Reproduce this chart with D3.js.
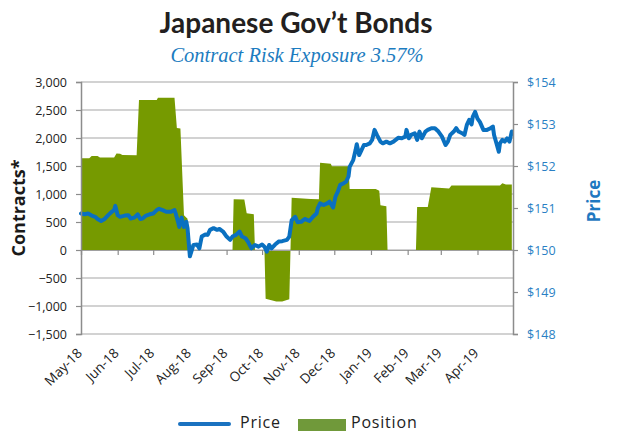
<!DOCTYPE html>
<html><head><meta charset="utf-8">
<script src="https://cdn.jsdelivr.net/npm/d3@7"></script>
<style>body{margin:0;background:#fff}svg{display:block}</style>
</head><body>
<svg id="chart" width="618" height="432"></svg>
<script>
const titleText = "Japanese Gov\u2019t Bonds";
const subtitleText = "Contract Risk Exposure 3.57%";
const monthTicks = ["2018-05-01","2018-06-01","2018-07-01","2018-08-01","2018-09-01","2018-10-01","2018-11-01","2018-12-01","2019-01-01","2019-02-01","2019-03-01","2019-04-01"];
const monthLabels = ["May-18","Jun-18","Jul-18","Aug-18","Sep-18","Oct-18","Nov-18","Dec-18","Jan-19","Feb-19","Mar-19","Apr-19"];
const leftTicks = [-1500,-1000,-500,0,500,1000,1500,2000,2500,3000];
const rightTicks = [148,149,150,151,152,153,154];

const priceDates = ["2018-05-01","2018-05-04","2018-05-07","2018-05-10","2018-05-13","2018-05-15","2018-05-18","2018-05-21","2018-05-24","2018-05-27","2018-05-29","2018-05-30",
"2018-06-01","2018-06-03","2018-06-07","2018-06-10","2018-06-12","2018-06-15","2018-06-18","2018-06-20","2018-06-22","2018-06-25","2018-06-28",
"2018-07-01","2018-07-04","2018-07-06","2018-07-09","2018-07-12","2018-07-16","2018-07-19","2018-07-20","2018-07-22","2018-07-23","2018-07-25","2018-07-27","2018-07-29","2018-07-30",
"2018-08-01","2018-08-04","2018-08-07","2018-08-09","2018-08-11","2018-08-14","2018-08-16","2018-08-18","2018-08-21","2018-08-24","2018-08-26","2018-08-29",
"2018-09-01","2018-09-04","2018-09-06","2018-09-09","2018-09-12","2018-09-14","2018-09-17","2018-09-19","2018-09-22","2018-09-25","2018-09-28",
"2018-10-01","2018-10-03","2018-10-05","2018-10-07","2018-10-09","2018-10-12","2018-10-15","2018-10-18","2018-10-22","2018-10-24","2018-10-26","2018-10-29","2018-10-31",
"2018-11-03","2018-11-06","2018-11-10","2018-11-13","2018-11-16","2018-11-17","2018-11-19","2018-11-22","2018-11-25","2018-11-27","2018-11-30",
"2018-12-02","2018-12-04","2018-12-06","2018-12-09","2018-12-11","2018-12-13","2018-12-14","2018-12-17","2018-12-19","2018-12-20","2018-12-22","2018-12-24","2018-12-26","2018-12-28","2018-12-31",
"2019-01-02","2019-01-04","2019-01-06","2019-01-09","2019-01-11","2019-01-14","2019-01-17","2019-01-20","2019-01-24","2019-01-27","2019-01-30","2019-01-31",
"2019-02-02","2019-02-04","2019-02-07","2019-02-09","2019-02-11","2019-02-13","2019-02-16","2019-02-18","2019-02-21","2019-02-24","2019-02-27",
"2019-03-02","2019-03-05","2019-03-07","2019-03-09","2019-03-12","2019-03-14","2019-03-16","2019-03-19","2019-03-21","2019-03-23","2019-03-25","2019-03-27","2019-03-28","2019-03-30",
"2019-04-01","2019-04-03","2019-04-06","2019-04-09","2019-04-12","2019-04-14","2019-04-15","2019-04-17","2019-04-19","2019-04-20","2019-04-22","2019-04-24","2019-04-26","2019-04-28","2019-04-29","2019-04-30"];
const priceValues = [150.87,150.85,150.87,150.82,150.79,150.74,150.69,150.74,150.83,150.91,150.95,151.05,
150.83,150.79,150.82,150.83,150.75,150.77,150.85,150.74,150.75,150.82,150.85,
150.87,150.95,150.98,150.95,150.91,150.91,150.95,150.87,150.67,150.55,150.77,150.55,150.67,150.52,
149.85,150.12,150.13,150.04,150.32,150.37,150.36,150.48,150.52,150.48,150.50,150.44,
150.32,150.24,150.32,150.36,150.44,150.32,150.28,150.20,150.04,150.12,150.08,
150.13,150.08,149.96,150.12,150.04,150.13,150.20,150.21,150.24,150.32,150.71,150.79,150.66,
150.67,150.74,150.69,150.79,150.87,150.99,151.11,151.07,151.11,151.15,151.01,
151.27,151.39,151.55,151.59,151.63,151.75,151.98,152.14,152.38,152.52,152.26,152.38,152.50,152.50,152.54,
152.62,152.86,152.74,152.58,152.54,152.58,152.54,152.58,152.67,152.66,152.70,152.86,
152.66,152.74,152.78,152.62,152.82,152.66,152.82,152.86,152.90,152.90,152.82,
152.70,152.50,152.58,152.74,152.82,152.90,152.82,152.78,152.74,152.98,153.10,152.99,153.17,153.29,
153.13,153.05,152.86,152.86,152.90,152.94,152.74,152.54,152.34,152.54,152.62,152.58,152.66,152.58,152.70,152.82];

const positionDates = ["2018-05-01","2018-05-08","2018-05-10","2018-05-15","2018-05-17","2018-05-29","2018-05-31","2018-06-03","2018-06-05","2018-06-17","2018-06-19","2018-07-04","2018-07-05","2018-07-19","2018-07-21","2018-07-24","2018-07-27","2018-07-30","2018-07-31",
"2018-09-06","2018-09-07","2018-09-16","2018-09-18","2018-09-24","2018-09-25",
"2018-10-03","2018-10-04","2018-10-13","2018-10-18","2018-10-24","2018-10-25",
"2018-10-26","2018-11-11","2018-11-18","2018-11-19","2018-11-28","2018-11-29","2018-12-13","2018-12-14","2019-01-05","2019-01-08","2019-01-09","2019-01-14","2019-01-15",
"2019-02-08","2019-02-09","2019-02-18","2019-02-21","2019-03-08","2019-03-10","2019-04-20","2019-04-22","2019-04-25","2019-04-30"];
const positionValues = [1640,1640,1680,1680,1650,1650,1725,1720,1695,1690,2680,2680,2720,2720,2180,2170,620,560,0,
0,905,900,655,640,0,
0,-870,-920,-920,-880,0,
935,910,905,1560,1540,1495,1495,1090,1090,1060,800,780,0,
0,770,770,1120,1100,1150,1150,1190,1170,1170];

const parse = d3.timeParse("%Y-%m-%d");
const price = priceDates.map((d,i)=>({date:parse(d), v:priceValues[i]}));
const position = positionDates.map((d,i)=>({date:parse(d), v:positionValues[i]}));

const svg = d3.select("#chart");
const L = 81, R = 513, T = 82, B = 334;
const x = d3.scaleTime().domain([parse("2018-05-01"), parse("2019-05-01")]).range([L, R]);
const yL = d3.scaleLinear().domain([-1500, 3000]).range([B, T]);
const yR = d3.scaleLinear().domain([148, 154]).range([B, T]);

// title
svg.append("text").attr("x", 296).attr("y", 33).attr("text-anchor","middle")
  .style("font-family","Lato, 'Open Sans', sans-serif").style("font-weight","bold").style("font-size","28px").style("fill","#231f20")
  .text(titleText);
svg.append("text").attr("x", 297).attr("y", 62).attr("text-anchor","middle")
  .style("font-family","'Liberation Serif', serif").style("font-style","italic").style("font-size","20.5px").style("fill","#1c7cc0")
  .text(subtitleText);

// gridlines
svg.append("g").selectAll("line").data(leftTicks).join("line")
  .attr("x1", L).attr("x2", R).attr("y1", d=>yL(d)).attr("y2", d=>yL(d))
  .attr("stroke", "#a6a6a6").attr("stroke-width", 1.2);

// position area
const area = d3.area().x(d=>x(d.date)).y0(yL(0)).y1(d=>yL(d.v));
svg.append("path").datum(position).attr("d", area).attr("fill", "#769a00");

// x axis at zero
const xAxis = d3.axisBottom(x).tickValues(monthTicks.map(parse)).tickSize(5).tickFormat("");
const gx = svg.append("g").attr("transform", `translate(0,${yL(0)})`).call(xAxis);
gx.select(".domain").attr("stroke", "#a0a0a0").attr("stroke-width", 1.2);
gx.selectAll(".tick line").attr("stroke", "#8c8c8c").attr("stroke-width", 1.2);

// price line
const line = d3.line().x(d=>x(d.date)).y(d=>yR(d.v)).curve(d3.curveLinear);
svg.append("path").datum(price).attr("d", line).attr("fill","none")
  .attr("stroke","#0a70c0").attr("stroke-width", 4).attr("stroke-linejoin","round").attr("stroke-linecap","round");

// left axis
const gl = svg.append("g").attr("transform", `translate(${L},0)`)
  .call(d3.axisLeft(yL).tickValues(leftTicks).tickSize(5).tickPadding(9).tickFormat(d3.format(",")));
gl.select(".domain").attr("stroke","#8c8c8c").attr("stroke-width",1.5);
gl.selectAll(".tick line").attr("stroke","#8c8c8c").attr("stroke-width",1.2);
gl.selectAll("text").style("font-family","'Open Sans', sans-serif").style("font-size","12.5px").style("fill","#222");

// right axis
const gr = svg.append("g").attr("transform", `translate(${R},0)`)
  .call(d3.axisRight(yR).tickValues(rightTicks).tickSize(5).tickPadding(9).tickFormat(d=>"$"+d));
gr.select(".domain").attr("stroke","#8c8c8c").attr("stroke-width",1.5);
gr.selectAll(".tick line").attr("stroke","#8c8c8c").attr("stroke-width",1.2);
gr.selectAll("text").style("font-family","'Open Sans', sans-serif").style("font-size","12.5px").style("fill","#2a7fc4");

// bottom month labels
svg.append("g").selectAll("text").data(monthTicks).join("text")
  .attr("transform", d=>`translate(${x(parse(d))+2},${B+20}) rotate(-45)`)
  .attr("text-anchor","end")
  .style("font-family","'Open Sans', sans-serif").style("font-size","13.5px").style("fill","#222")
  .text((d,i)=>monthLabels[i]);

// axis titles
svg.append("text").attr("transform", `translate(25,${(T+B)/2}) rotate(-90)`).attr("text-anchor","middle")
  .style("font-family","'Open Sans', sans-serif").style("font-weight","bold").style("font-size","18px").style("fill","#1a1a1a")
  .text("Contracts*");
svg.append("text").attr("transform", `translate(600,201) rotate(-90)`).attr("text-anchor","middle")
  .style("font-family","'Open Sans', sans-serif").style("font-weight","bold").style("font-size","17px").style("fill","#1f78c1")
  .text("Price");

// legend
const lg = svg.append("g");
lg.append("line").attr("x1",180).attr("x2",229).attr("y1",424).attr("y2",424)
  .attr("stroke","#1a72c0").attr("stroke-width",4).attr("stroke-linecap","round");
lg.append("text").attr("x",240).attr("y",428)
  .style("font-family","'Open Sans', sans-serif").style("font-size","16px").style("letter-spacing","0.8px").style("fill","#222").text("Price");
lg.append("rect").attr("x",298).attr("y",419).attr("width",48).attr("height",12).attr("fill","#70993a");
lg.append("text").attr("x",351).attr("y",428)
  .style("font-family","'Open Sans', sans-serif").style("font-size","16px").style("letter-spacing","0.8px").style("fill","#222").text("Position");
</script>
</body></html>
